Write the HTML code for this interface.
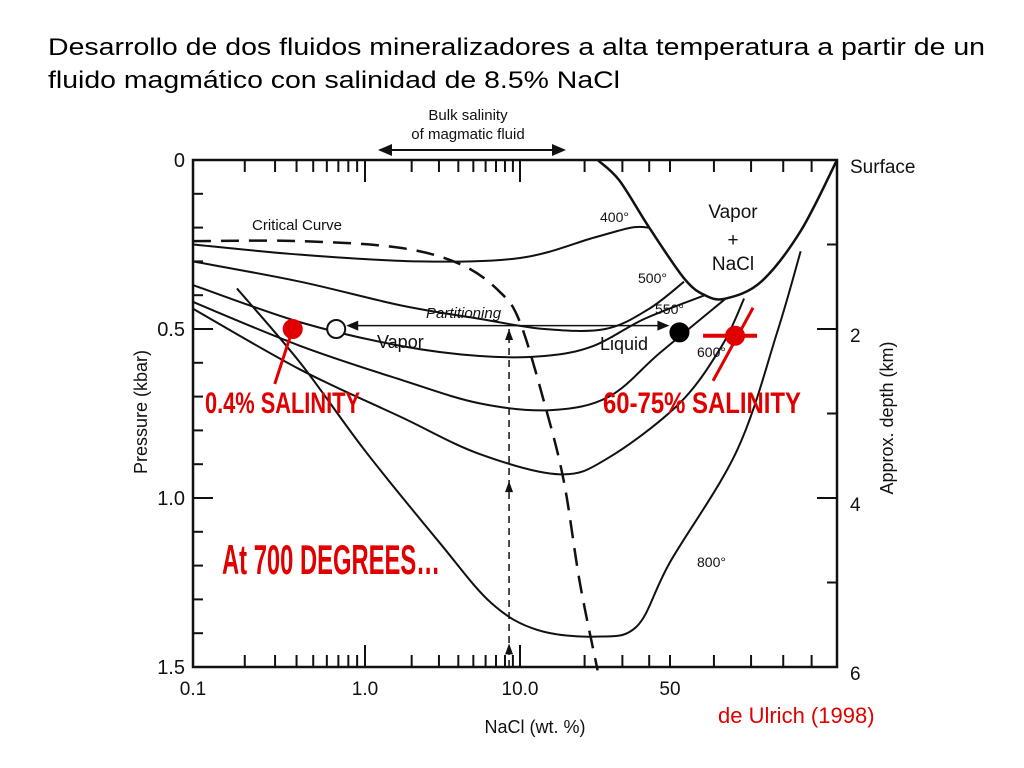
<!DOCTYPE html>
<html><head><meta charset="utf-8"><style>
body{margin:0;background:#fff;width:1024px;height:768px;overflow:hidden;font-family:"Liberation Sans",Arial,sans-serif}
svg{position:absolute;left:0;top:0}
</style></head><body>
<svg width="1024" height="768">
<text x="48" y="55" font-size="24" textLength="937" lengthAdjust="spacingAndGlyphs" fill="#000">Desarrollo de dos fluidos mineralizadores a alta temperatura a partir de un</text>
<text x="48" y="88" font-size="24" textLength="572" lengthAdjust="spacingAndGlyphs" fill="#000">fluido magmático con salinidad de 8.5% NaCl</text>
<g id="plot"></g>
</svg>
<script>
const xTicks=[0.1,1,10,50];
const xTickLabels=["0.1","1.0","10.0","50"];
const yTicks=[0,0.5,1.0,1.5];
const yTickLabels=["0","0.5","1.0","1.5"];
const depthLabels=["Surface","2","4","6"];
const isoNames=["400°","500°","550°","600°","700°","800°"];
const iso400x=[0.1,0.42,2.2,10,22,33,40];
const iso400p=[0.25,0.28,0.30,0.29,0.23,0.20,0.20];
const iso500x=[0.1,0.42,1.7,5.5,13,25,40,53];
const iso500p=[0.30,0.36,0.43,0.47,0.50,0.50,0.44,0.36];
const iso550x=[0.1,0.42,1.7,5.5,13,22,38,57.8];
const iso550p=[0.37,0.48,0.55,0.58,0.58,0.55,0.47,0.40];
const iso600x=[0.1,0.42,1.7,5.5,14,26,45,63];
const iso600p=[0.42,0.55,0.65,0.72,0.74,0.70,0.57,0.41];
const iso700x=[0.1,0.42,1.7,5.5,15.4,26,52,62,68];
const iso700p=[0.44,0.62,0.76,0.87,0.93,0.88,0.72,0.55,0.41];
const iso800x=[0.18,0.42,1.0,3.0,6.5,12,22.4,35,50,66,78,86];
const iso800p=[0.38,0.60,0.86,1.13,1.31,1.39,1.41,1.38,1.19,0.86,0.51,0.27];
const boundX=[23,29,40,53,57.8,63,73,86,100];
const boundP=[0,0.06,0.20,0.35,0.40,0.41,0.36,0.21,0.0];
const critX=[0.1,0.42,1.7,4.2,7.4,10,13,16,19,23];
const critP=[0.24,0.24,0.26,0.31,0.39,0.48,0.72,0.95,1.25,1.51];
const pointX=[0.38,0.68,52,65.5];
const pointP=[0.5,0.5,0.51,0.52];
const pointFill=["#e00000","#fff","#000","#e00000"];

const L=193,R=837,T=160,B=667;
const xs=[[-1,193],[0,365],[1,520],[Math.log10(50),670],[2,837]];
function X(v){const l=Math.log10(v);for(let i=0;i<xs.length-1;i++){if(l<=xs[i+1][0]||i==xs.length-2){const a=xs[i],b=xs[i+1];return a[1]+(l-a[0])/(b[0]-a[0])*(b[1]-a[1]);}}}
function Y(p){return T+p*(B-T)/1.5;}
const NS="http://www.w3.org/2000/svg";
const g=document.getElementById('plot');
function el(t,a,txt){const e=document.createElementNS(NS,t);for(const k in a)e.setAttribute(k,a[k]);if(txt!==undefined)e.textContent=txt;g.appendChild(e);return e;}
function path(xa,pa){let d="";const pts=xa.map((x,i)=>[X(x),Y(pa[i])]);d="M"+pts[0].join(",");for(let i=1;i<pts.length;i++){const p0=pts[Math.max(0,i-2)],p1=pts[i-1],p2=pts[i],p3=pts[Math.min(pts.length-1,i+1)];const c1=[p1[0]+(p2[0]-p0[0])/6,p1[1]+(p2[1]-p0[1])/6],c2=[p2[0]-(p3[0]-p1[0])/6,p2[1]-(p3[1]-p1[1])/6];d+=" C"+c1.join(",")+" "+c2.join(",")+" "+p2.join(",");}return d;}
let f=el('rect',{x:L,y:T,width:R-L,height:B-T,fill:'none',stroke:'#111','stroke-width':2.5});

for(let d=-1;d<2;d++)for(let m=1;m<10;m++){const v=m*Math.pow(10,d);const x=X(v);const len=m==1?22:12;
 let t=el('line',{x1:x,x2:x,y1:B,y2:B-len,stroke:'#111','stroke-width':2});
 let t2=el('line',{x1:x,x2:x,y1:T,y2:T+len,stroke:'#111','stroke-width':2});}
for(let i=1;i<15;i++){const p=i*0.1,y=Y(p);const len=i%5==0?20:10;
 let a=el('line',{x1:L,x2:L+len,y1:y,y2:y,stroke:'#111','stroke-width':2});}
for(let i=1;i<6;i++){const y=T+i*(B-T)/6;const len=i%2==0?20:10;
 let a=el('line',{x1:R,x2:R-len,y1:y,y2:y,stroke:'#111','stroke-width':2});}
xTicks.forEach((v,i)=>{let t=el('text',{x:X(v),y:695,'font-size':19,'text-anchor':'middle',fill:'#111'},xTickLabels[i]);});
yTicks.forEach((v,i)=>{let t=el('text',{x:185,y:Y(v)+7,'font-size':20,'text-anchor':'end',fill:'#111'},yTickLabels[i]);});
depthLabels.forEach((s,i)=>{let t=el('text',{x:850,y:T+i*(B-T)/3+13,'font-size':19,fill:'#111'},s);});
let xl=el('text',{x:535,y:733,'font-size':18,'text-anchor':'middle',fill:'#111'},'NaCl  (wt. %)');
let yl=el('text',{x:0,y:0,'font-size':18,'text-anchor':'middle',fill:'#111',transform:'translate(147,412) rotate(-90)'},'Pressure    (kbar)');
let dl=el('text',{x:0,y:0,'font-size':18,'text-anchor':'middle',fill:'#111',transform:'translate(893,418) rotate(-90)'},'Approx. depth    (km)');
let b1=el('text',{x:468,y:120,'font-size':15,'text-anchor':'middle',fill:'#111'},'Bulk salinity');
let b2=el('text',{x:468,y:139,'font-size':15,'text-anchor':'middle',fill:'#111'},'of magmatic fluid');
let ba=el('line',{x1:388,x2:556,y1:150,y2:150,stroke:'#111','stroke-width':2});
let bh1=el('polygon',{points:'378,150 392,144 392,156',fill:'#111'});
let bh2=el('polygon',{points:'566,150 552,144 552,156',fill:'#111'});
[[iso400x,iso400p],[iso500x,iso500p],[iso550x,iso550p],[iso600x,iso600p],[iso700x,iso700p],[iso800x,iso800p]].forEach((c,i)=>{let p=el('path',{d:path(c[0],c[1]),fill:'none',stroke:'#111','stroke-width':2});});
let bd=el('path',{d:path(boundX,boundP),fill:'none',stroke:'#111','stroke-width':2.5});
let cc=el('path',{d:path(critX,critP),fill:'none',stroke:'#111','stroke-width':2.5,'stroke-dasharray':'18,10'});
const labs=[["Critical Curve",252,230,15,'critical-curve-label'],["400°",600,222,14,'label-400'],["500°",638,283,14,'label-500'],["550°",655,314,14,'label-550'],["600°",697,357,14,'label-600'],["800°",697,567,14,'label-800'],["Vapor",377,348,18,'vapor-label'],["Liquid",600,350,18,'liquid-label'],["Vapor",733,218,19,'vapor-nacl-label'],["+",733,246,19,'plus-label'],["NaCl",733,270,19,'nacl-label']];
labs.forEach(a=>{let t=el('text',{x:a[1],y:a[2],'font-size':a[3],fill:'#111','text-anchor':a[4].startsWith('vapor-nacl')||a[4]=='plus-label'||a[4]=='nacl-label'?'middle':'start'},a[0]);});
let pt=el('text',{x:426,y:318,'font-size':15,'font-style':'italic',fill:'#111'},'Partitioning');
let pa=el('line',{x1:X(pointX[1])+18,x2:X(pointX[2])-18,y1:Y(0.49),y2:Y(0.49),stroke:'#111','stroke-width':1.5});
let ph1=el('polygon',{points:`${X(pointX[1])+10},${Y(0.49)} ${X(pointX[1])+22},${Y(0.49)-5} ${X(pointX[1])+22},${Y(0.49)+5}`,fill:'#111'});
let ph2=el('polygon',{points:`${X(pointX[2])-10},${Y(0.49)} ${X(pointX[2])-22},${Y(0.49)-5} ${X(pointX[2])-22},${Y(0.49)+5}`,fill:'#111'});
let vd=el('line',{x1:X(8.5),x2:X(8.5),y1:B,y2:Y(0.5),stroke:'#111','stroke-width':1.5,'stroke-dasharray':'7,5'});
[0.5,0.95,1.43].forEach(p=>{let h=el('polygon',{points:`${X(8.5)},${Y(p)} ${X(8.5)-4},${Y(p)+11} ${X(8.5)+4},${Y(p)+11}`,fill:'#111'});});
let r1=el('line',{x1:X(pointX[0]),y1:Y(pointP[0]),x2:X(pointX[0])-18,y2:Y(pointP[0])+55,stroke:'#e00000','stroke-width':3});
let r2=el('line',{x1:X(pointX[3])+18,y1:Y(pointP[3])-28,x2:X(pointX[3])-22,y2:Y(pointP[3])+45,stroke:'#e00000','stroke-width':3});
let r3=el('line',{x1:X(pointX[3])-32,y1:Y(pointP[3]),x2:X(pointX[3])+22,y2:Y(pointP[3]),stroke:'#e00000','stroke-width':4});
pointX.forEach((x,i)=>{let c=el('circle',{cx:X(x),cy:Y(pointP[i]),r:9,fill:pointFill[i],stroke:i==1?'#111':pointFill[i],'stroke-width':2});});
const red=[["0.4% SALINITY",205,413,30,155,'low-salinity-label'],["60-75%  SALINITY",603,413,30,198,'high-salinity-label'],["At 700 DEGREES…",222,574,42,218,'temperature-label']];
red.forEach(a=>{let t=el('text',{x:a[1],y:a[2],'font-size':a[3],'font-weight':'bold',fill:'#e00000',textLength:a[4],lengthAdjust:'spacingAndGlyphs'},a[0]);});
let src=el('text',{x:718,y:723,'font-size':22,fill:'#e00000'},'de Ulrich (1998)');
</script>
</body></html>
